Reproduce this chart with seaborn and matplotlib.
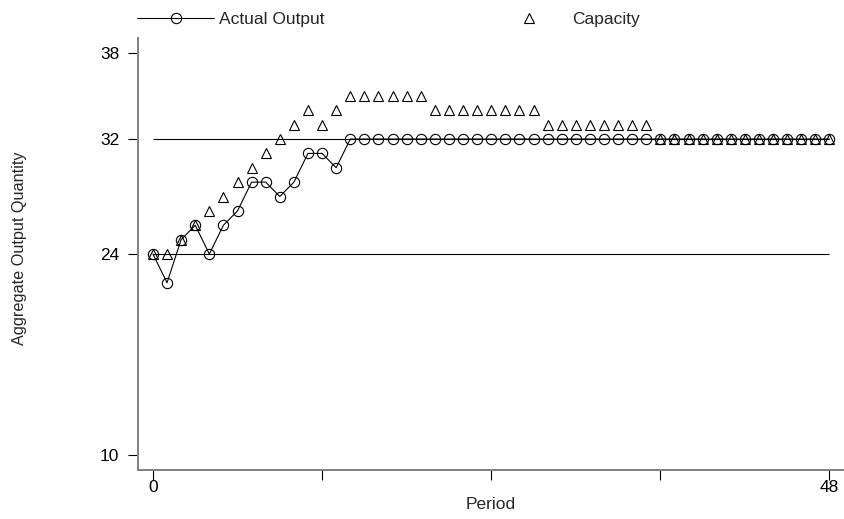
import numpy as np
import pandas as pd
import matplotlib
matplotlib.use("Agg")
import matplotlib.pyplot as plt
import seaborn as sns

# ---- data ----
periods = list(range(0, 49))
actual_output = [24, 22, 25, 26, 24, 26, 27, 29, 29, 28, 29, 31, 31, 30] + [32] * 35
capacity = ([24, 24, 25, 26, 27, 28, 29, 30, 31, 32, 33, 34, 33, 34]
            + [35] * 6 + [34] * 8 + [33] * 8 + [32] * 13)
reference_levels = [24, 32]
y_ticks = [10, 24, 32, 38]
x_ticks = [0, 12, 24, 36, 48]
x_tick_labels = ["0", "", "", "", "48"]

df = pd.DataFrame({"Period": periods, "Actual": actual_output, "Capacity": capacity})

sns.set_style("white")
plt.rcParams["font.family"] = ["Liberation Sans", "DejaVu Sans"]

W, H = 845, 519
fig = plt.figure(figsize=(W / 100, H / 100), dpi=100)
L, R, T, B = 138, 845, 38, 470
ax = fig.add_axes([L / W, 1 - B / H, (R - L) / W, (B - T) / H])

fs = 12.5

ax.hlines(reference_levels, periods[0], periods[-1], color="black", lw=0.8, zorder=1)

sns.lineplot(data=df, x="Period", y="Capacity", ax=ax, color="black",
             linestyle="none", marker="^", ms=6.8, mfc="none", mec="black",
             mew=0.8, label="Capacity", zorder=2)
sns.lineplot(data=df, x="Period", y="Actual", ax=ax, color="black", lw=0.8,
             marker="o", ms=7.4, mfc="none", mec="black", mew=0.8,
             label="Actual Output", zorder=3)

ax.set_xlim(-1.06, 49.1)
ax.set_ylim(8.97, 39.03)
ax.set_yticks(y_ticks)
ax.set_yticklabels([str(v) for v in y_ticks], fontsize=fs)
ax.set_xticks(x_ticks)
ax.set_xticklabels(x_tick_labels, fontsize=fs)
ax.tick_params(axis="both", direction="out", length=7, width=0.8,
               color="black", labelcolor="black", left=True, bottom=True)
ax.tick_params(axis="y", pad=6.5)
ax.tick_params(axis="x", pad=0.5)

for s in ["top", "right"]:
    ax.spines[s].set_visible(False)
for s in ["left", "bottom"]:
    ax.spines[s].set_color("#808080")
    ax.spines[s].set_linewidth(1.4)

ax.set_xlabel("Period", fontsize=fs)
ax.set_ylabel("Aggregate Output Quantity", fontsize=11.7)
ax.xaxis.set_label_coords((491 - L) / (R - L), -(497 - B) / (B - T))
ax.yaxis.set_label_coords((27 - L) / (R - L), (B - 248) / (B - T))

handles, labels = ax.get_legend_handles_labels()
order = [labels.index("Actual Output"), labels.index("Capacity")]
leg = ax.legend([handles[i] for i in order], [labels[i] for i in order],
                ncol=2, frameon=False, fontsize=fs, loc="center left",
                bbox_to_anchor=(137 / W, 1 - 19 / H), bbox_transform=fig.transFigure,
                handlelength=4.45, handletextpad=0.25, columnspacing=9.6,
                borderpad=0, borderaxespad=0, numpoints=1)

fig.savefig("out.png", dpi=100)
